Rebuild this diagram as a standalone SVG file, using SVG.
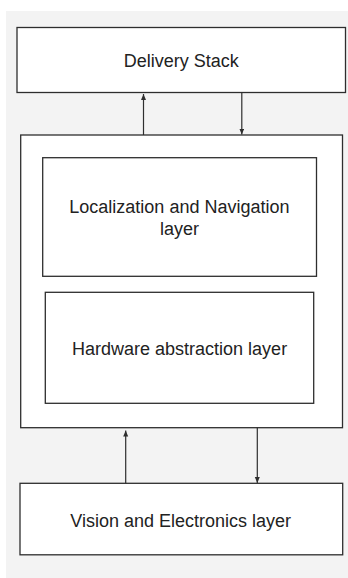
<svg xmlns="http://www.w3.org/2000/svg" width="348" height="578" viewBox="0 0 348 578">
  <defs>
    <style>
      .box { fill: #ffffff; stroke: #2e2e2e; stroke-width: 1.3; }
      .lbl { font-family: "Liberation Sans", Arial, sans-serif; font-size: 18px; fill: #222222; text-anchor: middle; }
      .conn { stroke: #2e2e2e; stroke-width: 1.2; fill: none; }
    </style>
    <marker id="arrow" markerUnits="userSpaceOnUse" markerWidth="6" markerHeight="7" refX="6" refY="2.5" orient="auto">
      <path d="M0,0 L6,2.5 L0,5 Z" fill="#2e2e2e"/>
    </marker>
  </defs>
  <rect x="0" y="0" width="348" height="578" fill="#ffffff"/>
  <rect x="6" y="11" width="342" height="567" fill="#f3f3f3"/>

  <g id="delivery-stack">
    <rect class="box" x="17" y="27.5" width="328.5" height="65"/>
    <text class="lbl" x="181.3" y="67.3">Delivery Stack</text>
  </g>

  <g id="middle-container">
    <rect class="box" x="20.7" y="135" width="321.8" height="292.7"/>
  </g>

  <g id="localization-navigation">
    <rect class="box" x="42.7" y="157.7" width="273.8" height="118.6"/>
    <text class="lbl" x="179.4" y="213.3">Localization and Navigation</text>
    <text class="lbl" x="179.4" y="235">layer</text>
  </g>

  <g id="hardware-abstraction">
    <rect class="box" x="45.3" y="292.3" width="268.4" height="111"/>
    <text class="lbl" x="179.6" y="355">Hardware abstraction layer</text>
  </g>

  <g id="vision-electronics">
    <rect class="box" x="20" y="483.3" width="322.7" height="71.5"/>
    <text class="lbl" x="180.6" y="526.7">Vision and Electronics layer</text>
  </g>

  <g id="connectors">
    <line class="conn" x1="143.5" y1="135" x2="143.5" y2="94" marker-end="url(#arrow)"/>
    <line class="conn" x1="241.8" y1="92.5" x2="241.8" y2="134.5" marker-end="url(#arrow)"/>
    <line class="conn" x1="125.7" y1="483.3" x2="125.7" y2="430.5" marker-end="url(#arrow)"/>
    <line class="conn" x1="257.3" y1="427.7" x2="257.3" y2="483" marker-end="url(#arrow)"/>
  </g>
</svg>
